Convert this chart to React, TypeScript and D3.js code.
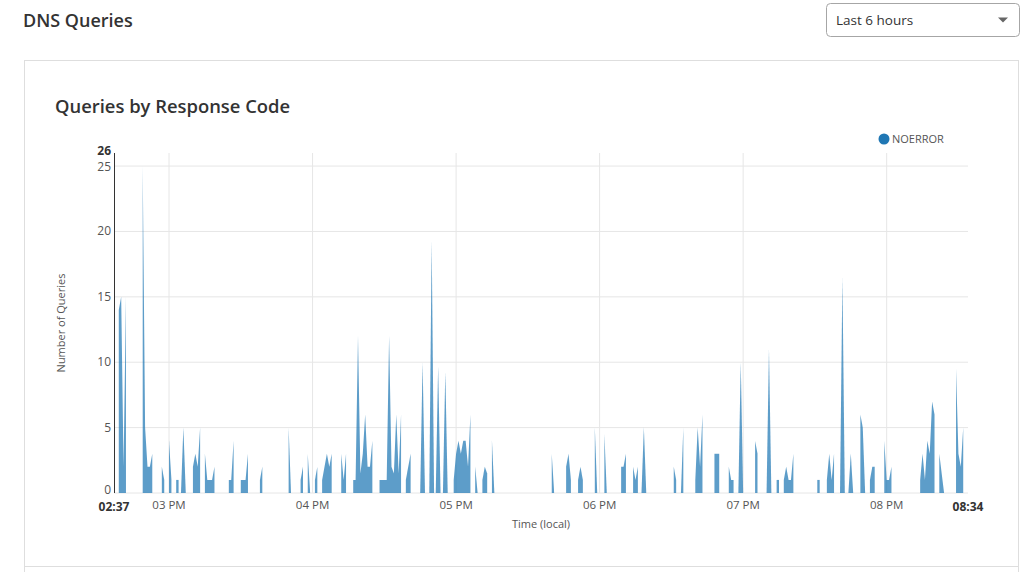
import React from "react";
import * as d3 from "d3";

// Time window (local)
const START = new Date(2024, 0, 1, 14, 37);
const END = new Date(2024, 0, 1, 20, 34);

// Series "NOERROR": runs of per-minute counts, each starting at a minute offset from START
const segStarts: number[] = [
  2, 12, 20, 23, 26, 28, 33, 38, 48, 53, 61, 73, 78, 81, 84, 87, 95, 100, 111, 122,
  128, 131.8, 134.5, 137.5, 142, 151, 154, 158, 183, 189, 194, 201, 205, 212, 217, 220.5,
  234, 237, 243, 251, 257, 261, 268, 272.8, 277, 280, 294, 298, 303.5, 307, 312, 316,
  322, 337, 345, 352,
];
const segValues: number[][] = [
  [14, 15, 2, 15],
  [25, 5, 2, 2, 3],
  [2, 1],
  [4, 1],
  [1, 1],
  [0, 5, 0],
  [2, 3, 2, 5],
  [3, 1, 1, 1, 2],
  [1, 1, 4],
  [1, 1, 1, 3],
  [1, 2],
  [5, 0],
  [1, 2],
  [3, 0],
  [1, 2],
  [1, 2, 3, 2, 3],
  [3, 1, 3],
  [1, 1, 12, 1.5, 3, 6, 2, 2, 4],
  [1, 1, 1, 1, 12, 2, 1.5, 6, 1.5, 6],
  [1, 2, 3],
  [0, 10, 0],
  [0, 19.3, 0],
  [0, 9.7, 0],
  [0, 9.3, 0],
  [1, 3, 4, 3, 4, 4, 2, 6],
  [2, 0],
  [1, 2, 1.5],
  [4, 0],
  [3, 0],
  [2, 3, 1],
  [1, 2, 1],
  [5, 0],
  [4.5, 0],
  [2, 2, 3],
  [2, 1, 2],
  [0, 5, 0],
  [2, 1],
  [0, 5],
  [1, 5, 2, 6],
  [3, 3, 3],
  [2, 1, 1],
  [0, 10, 0],
  [4, 3],
  [0, 11, 0],
  [1, 1],
  [1, 2, 1, 1, 3],
  [1, 1],
  [1, 3, 1, 3],
  [0, 16.5, 0],
  [0, 3, 0],
  [6, 5, 0],
  [1, 2, 2],
  [4, 1, 1, 2],
  [1, 3, 1, 4, 3, 7, 6],
  [3, 1.5, 0],
  [9.5, 3, 2, 5],
];

const seriesName = "NOERROR";
const yTicks: number[] = [0, 5, 10, 15, 20, 25];
const yMax = 26;
const rangeOptions: string[] = ["Last 6 hours"];

const FONT = "'Open Sans', 'Noto Sans', sans-serif";

export default function App() {
  const x = d3.scaleTime().domain([START, END]).range([114, 968]);
  const y = d3.scaleLinear().domain([0, yMax]).range([493, 153]);

  type P = { t: Date; v: number };
  const segments: P[][] = segStarts.map((s, si) =>
    segValues[si].map((v, i) => ({
      t: new Date(START.getTime() + (s + i) * 60000),
      v,
    }))
  );
  const area = d3
    .area<P>()
    .x((d) => x(d.t))
    .y0(y(0))
    .y1((d) => y(d.v));

  const hourTicks = x.ticks(d3.timeHour.every(1) as any);
  const fmtHour = d3.timeFormat("%I %p");
  const fmtEdge = d3.timeFormat("%I:%M");
  const [x0, x1] = x.range();
  const [yb, yt] = y.range();

  return (
    <div style={{ position: "absolute", left: 0, top: 0, width: 1024, height: 572, background: "#fff" }}>
      <svg width={1024} height={572} style={{ display: "block", fontFamily: FONT }}>
        {/* page header */}
        <text x={23} y={27} fontSize={18} fontWeight={600} fill="#333">
          DNS Queries
        </text>
        <rect x={826.5} y={3.5} width={193} height={33} rx={4} fill="#fff" stroke="#a6a6a6" />
        <text x={836} y={25} fontSize={13.5} fill="#333">
          {rangeOptions[0]}
        </text>
        <path d="M998,17.5 L1008,17.5 L1003,22.5 Z" fill="#666" />

        {/* card */}
        <rect x={24.5} y={60.5} width={994} height={506} fill="#fff" stroke="#dedede" />
        <line x1={24.5} x2={24.5} y1={566} y2={572} stroke="#dedede" />
        <line x1={1018.5} x2={1018.5} y1={566} y2={572} stroke="#dedede" />
        <text x={55} y={113} fontSize={18.4} fontWeight={600} fill="#333">
          Queries by Response Code
        </text>

        {/* legend */}
        <circle cx={884} cy={139} r={5.5} fill="#1f77b4" />
        <text x={892} y={143} fontSize={11} fill="#555">
          {seriesName}
        </text>

        {/* grid */}
        {yTicks.map((t) => (
          <line key={"gy" + t} x1={x0} x2={x1} y1={y(t)} y2={y(t)} stroke="#e6e6e6" />
        ))}
        {hourTicks.map((t) => (
          <line key={"gx" + t.getTime()} x1={x(t)} x2={x(t)} y1={yt} y2={yb} stroke="#e6e6e6" />
        ))}

        {/* area */}
        {segments.map((seg, i) => (
          <path key={"a" + i} d={area(seg) || ""} fill="#1f77b4" fillOpacity={0.72} />
        ))}

        {/* y axis */}
        <line x1={x0 + 0.5} x2={x0 + 0.5} y1={yt} y2={yb} stroke="#333" />
        {yTicks.map((t) => (
          <text key={"ty" + t} x={111} y={y(t) + (t === 0 ? 1 : t === 25 ? 5 : 4)} fontSize={12} fill="#555" textAnchor="end">
            {t}
          </text>
        ))}
        <text x={111} y={y(yMax) + 2} fontSize={12} fontWeight={700} fill="#333" textAnchor="end">
          {yMax}
        </text>
        <text
          transform={`translate(65,${(yt + yb) / 2}) rotate(-90)`}
          fontSize={11}
          fill="#555"
          textAnchor="middle"
        >
          Number of Queries
        </text>

        {/* x axis */}
        {hourTicks.map((t) => (
          <text key={"tx" + t.getTime()} x={x(t)} y={509} fontSize={11.5} fill="#555" textAnchor="middle">
            {fmtHour(t)}
          </text>
        ))}
        <text x={x(START)} y={511} fontSize={12} fontWeight={700} fill="#333" textAnchor="middle">
          {fmtEdge(START)}
        </text>
        <text x={x(END)} y={511} fontSize={12} fontWeight={700} fill="#333" textAnchor="middle">
          {fmtEdge(END)}
        </text>
        <text x={541} y={528} fontSize={11} fill="#555" textAnchor="middle">
          Time (local)
        </text>
      </svg>
    </div>
  );
}
